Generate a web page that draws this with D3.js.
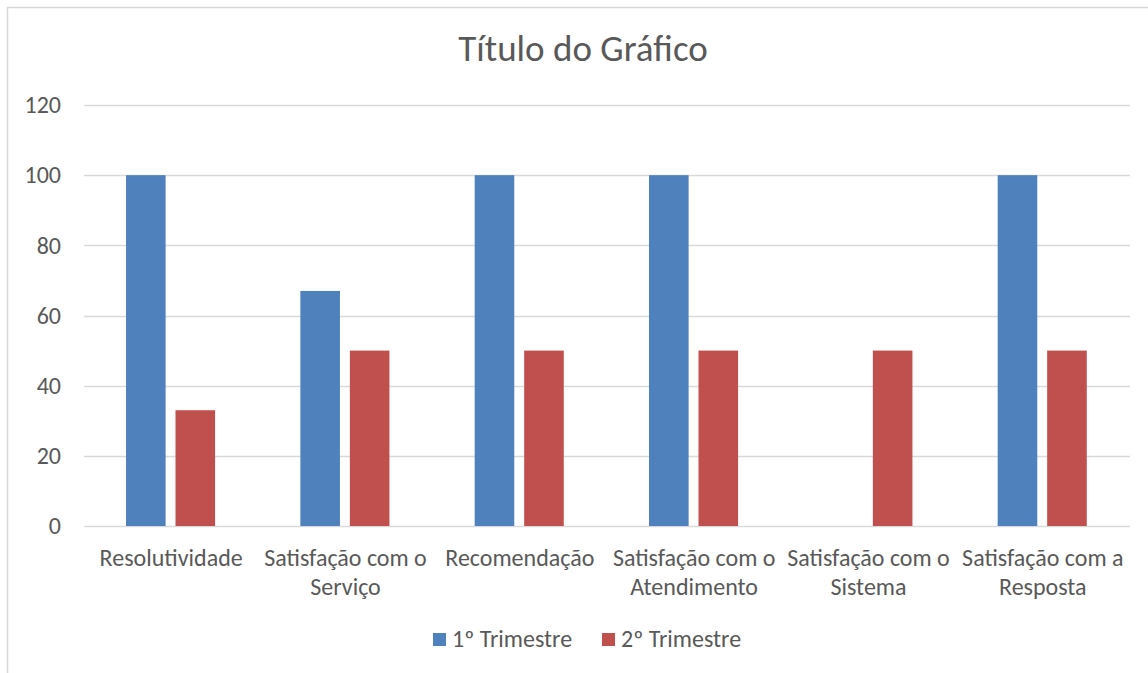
<!DOCTYPE html>
<html>
<head>
<meta charset="utf-8">
<script src="https://cdn.jsdelivr.net/npm/d3@7"></script>
<style>
  body { margin: 0; background: #fff; }
  svg { display: block; font-family: Carlito, Calibri, Lato, sans-serif; }
</style>
</head>
<body>
<svg id="chart" width="1148" height="673"></svg>
<script>
const categories = [
  ["Resolutividade"],
  ["Satisfação com o", "Serviço"],
  ["Recomendação"],
  ["Satisfação com o", "Atendimento"],
  ["Satisfação com o", "Sistema"],
  ["Satisfação com a", "Resposta"]
];
const seriesNames = ["1º Trimestre", "2º Trimestre"];
const trimestre1 = [100, 67, 100, 100, null, 100];
const trimestre2 = [33, 50, 50, 50, 50, 50];
const yTicks = [0, 20, 40, 60, 80, 100, 120];
const colors = ["#4f81bd", "#c0504d"];

const svg = d3.select("#chart");
const textColor = "#595959";

// chart border (cropped on right/bottom)
svg.append("path")
  .attr("d", "M7.5,673 V7.5 H1148")
  .attr("fill", "none").attr("stroke", "#d9d9d9").attr("stroke-width", 1.5);

svg.append("text")
  .attr("x", 583).attr("y", 61)
  .attr("text-anchor", "middle")
  .attr("font-size", 37).attr("fill", textColor)
  .text("Título do Gráfico");

const plot = { left: 84, right: 1130, top: 105, bottom: 526 };
const keys = categories.map((c, i) => i);

const x0 = d3.scaleBand().domain(keys).range([plot.left, plot.right]);
const x1 = d3.scaleBand().domain([0, 1]).range([x0.bandwidth() * 0.241, x0.bandwidth() * 0.752]).paddingInner(0.2);
const y = d3.scaleLinear().domain([0, 120]).range([plot.bottom, plot.top]);

// gridlines
svg.append("g").selectAll("line").data(yTicks).join("line")
  .attr("x1", plot.left).attr("x2", plot.right)
  .attr("y1", d => Math.round(y(d)) + 0.5).attr("y2", d => Math.round(y(d)) + 0.5)
  .attr("stroke", "#d9d9d9").attr("stroke-width", 1.5);

// y axis labels
const yAxis = svg.append("g")
  .attr("transform", `translate(${plot.left - 23},0)`)
  .call(d3.axisLeft(y).tickValues(yTicks).tickSize(0).tickPadding(0));
yAxis.select(".domain").remove();
yAxis.selectAll("text").attr("font-size", 24).attr("fill", textColor)
  .attr("font-family", "Carlito, Calibri, Lato, sans-serif");

// bars
const rows = keys.map(i => ({ i, vals: [trimestre1[i], trimestre2[i]] }));
const groups = svg.append("g").selectAll("g").data(rows).join("g")
  .attr("transform", d => `translate(${x0(d.i)},0)`);
groups.selectAll("rect")
  .data(d => d.vals.map((v, s) => ({ v, s })).filter(d => d.v != null))
  .join("rect")
  .attr("x", d => x1(d.s))
  .attr("width", x1.bandwidth())
  .attr("y", d => y(d.v))
  .attr("height", d => y(0) - y(d.v))
  .attr("fill", d => colors[d.s]);

// category labels
const xl = svg.append("g").selectAll("text").data(rows).join("text")
  .attr("x", d => x0(d.i) + x0.bandwidth() / 2)
  .attr("y", 566)
  .attr("text-anchor", "middle")
  .attr("font-size", 24).attr("fill", textColor);
xl.selectAll("tspan").data(d => categories[d.i]).join("tspan")
  .attr("x", function () { return d3.select(this.parentNode).attr("x"); })
  .attr("dy", (d, j) => j === 0 ? 0 : 29)
  .text(d => d);

// legend
const legendX = [433, 602];
const legend = svg.append("g");
seriesNames.forEach((name, s) => {
  legend.append("rect").attr("x", legendX[s]).attr("y", 633)
    .attr("width", 13).attr("height", 13).attr("fill", colors[s]);
  legend.append("text").attr("x", legendX[s] + 19).attr("y", 647)
    .attr("font-size", 24).attr("fill", textColor).text(name);
});
</script>
</body>
</html>
